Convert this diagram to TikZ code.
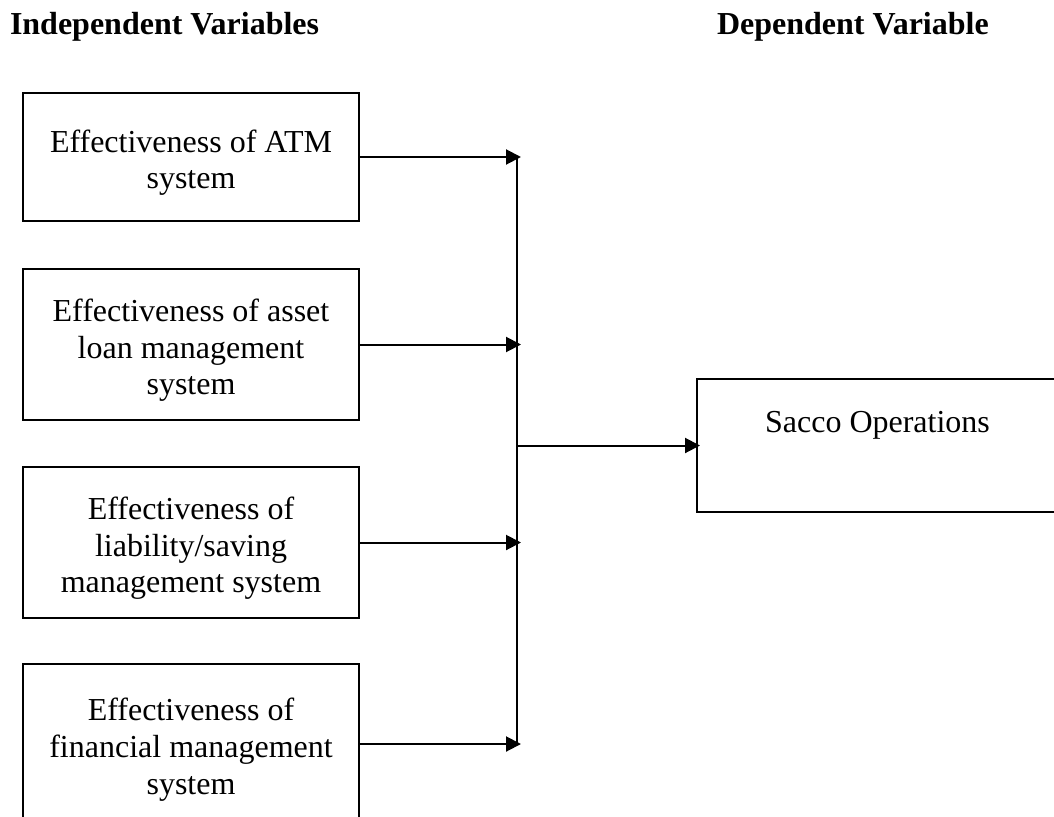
\documentclass[tikz,border=0pt]{standalone}
\usepackage{fontspec}
\setmainfont{Liberation Serif}
\usetikzlibrary{arrows.meta}
\newcommand{\ivtop}{\rule{0pt}{34pt}}

\begin{document}
\begin{tikzpicture}[x=1pt, y=-1pt, >={Triangle[length=15pt, width=15pt]}, line width=2pt,
  every node/.style={font=\fontsize{32}{36.8}\selectfont},
  heading/.style={anchor=base west, inner sep=0pt, font=\fontsize{32}{36.8}\selectfont\bfseries},
  ivbox/.style={draw, minimum width=336pt, align=center, inner sep=0pt},
  dvbox/.style={draw, minimum width=361pt, minimum height=133pt, align=center, inner sep=0pt},
  flow/.style={->}]
  \useasboundingbox (0,0) rectangle (1054,816);
  % titulos
  \node[heading] (ivtitle) at (9,35) {Independent Variables};
  \node[heading] (dvtitle) at (716,35) {Dependent Variable};
  % variables independientes
  \node[ivbox, minimum height=128pt] (atm) at (191,157) {\ivtop Effectiveness of ATM\\system};
  \node[ivbox, minimum height=151pt] (asset) at (191,344.5) {\ivtop Effectiveness of asset\\loan management\\system};
  \node[ivbox, minimum height=151pt] (liab) at (191,542.5) {\ivtop Effectiveness of\\liability/saving\\management system};
  \node[ivbox, minimum height=160pt] (fin) at (191,744) {\ivtop Effectiveness of\\financial management\\system};
  % variable dependiente
  \node[dvbox] (sacco) at (877.5,445.5) {Sacco Operations\\\strut};
  % barra colectora
  \coordinate (bustop) at (517,157);
  \coordinate (busbot) at (517,744);
  \coordinate (tipx) at (521,0);
  \draw (bustop) -- (busbot);
  \foreach \v in {atm, asset, liab, fin}
    \draw[flow] (\v.east) -- (\v.east -| tipx);
  \draw[flow, shorten >=-4pt] (sacco.west -| bustop) -- (sacco.west);
\end{tikzpicture}
\end{document}
